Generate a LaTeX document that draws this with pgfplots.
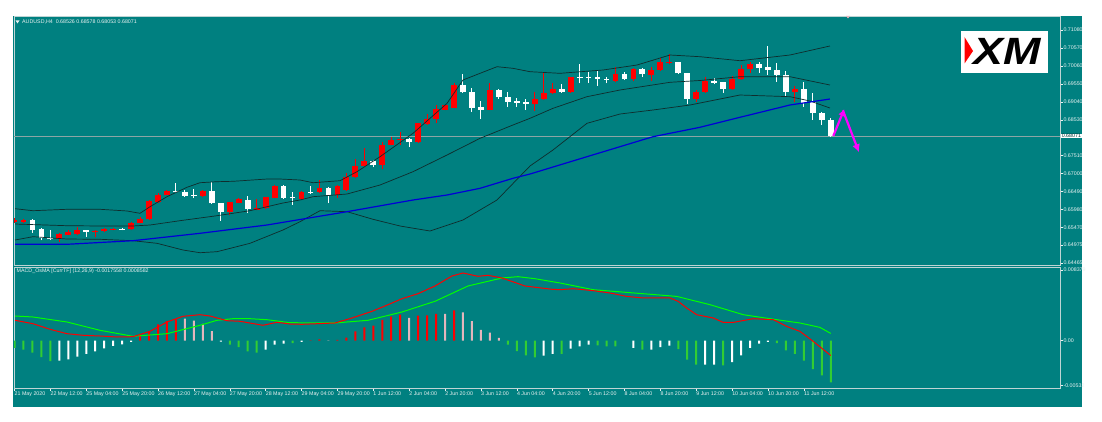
\documentclass[border=0pt]{standalone}
\usepackage{pgfplots}
\pgfplotsset{compat=1.18}
\usepackage{pgfplotstable}
\usepackage{fontspec}
\setmainfont{Liberation Sans}
\usetikzlibrary{arrows.meta}
\definecolor{bg}{RGB}{0,128,128}
\definecolor{framec}{RGB}{190,212,212}
\definecolor{band}{RGB}{15,45,45}
\definecolor{maBlue}{RGB}{0,0,215}
\definecolor{histGreen}{RGB}{50,205,50}
\definecolor{histPink}{RGB}{228,182,188}
\definecolor{macdGreen}{RGB}{0,255,0}
\definecolor{priceLine}{RGB}{140,165,165}
\definecolor{arrowPink}{RGB}{255,0,255}
\definecolor{lbl}{RGB}{235,242,242}
\newcommand{\lblfont}{\fontsize{5.3}{6}\selectfont}
\pgfplotsset{candle/.style={only marks, mark=*, mark size=0pt, mark options={draw=none, fill=none},
  error bars/y dir=plus, error bars/y explicit, error bars/error mark=none}}

\pgfplotstableread{
x o h l c
0 0.65627 0.65749 0.65599 0.65684
1 0.65619 0.65712 0.65599 0.65676
5 0.65136 0.65301 0.65068 0.65278
6 0.65267 0.65386 0.65244 0.65352
7 0.65286 0.65485 0.65258 0.65392
9 0.65343 0.65400 0.65193 0.65372
10 0.65372 0.65443 0.65357 0.65428
11 0.65420 0.65471 0.65386 0.65437
13 0.65420 0.65627 0.65400 0.65599
14 0.65599 0.65769 0.65585 0.65704
15 0.65704 0.66238 0.65684 0.66224
16 0.66204 0.66437 0.66167 0.66403
17 0.66394 0.66536 0.66380 0.66508
21 0.66366 0.66522 0.66351 0.66499
24 0.65911 0.66209 0.65826 0.66187
25 0.66175 0.66309 0.66153 0.66272
27 0.65977 0.66272 0.65954 0.66033
28 0.66025 0.66351 0.66005 0.66329
29 0.66317 0.66678 0.66295 0.66658
32 0.66280 0.66508 0.66252 0.66479
34 0.66471 0.66820 0.66451 0.66601
36 0.66394 0.66678 0.66317 0.66650
37 0.66536 0.67010 0.66508 0.66897
38 0.66897 0.67416 0.66877 0.67226
39 0.67226 0.67720 0.67203 0.67351
41 0.67246 0.67908 0.67141 0.67814
42 0.67823 0.68033 0.67800 0.67965
43 0.67948 0.68192 0.67814 0.67976
45 0.67891 0.68453 0.67871 0.68430
46 0.68419 0.68694 0.68396 0.68544
47 0.68552 0.68950 0.68447 0.68828
48 0.68817 0.68964 0.68794 0.68942
49 0.68873 0.69583 0.68851 0.69518
53 0.68817 0.69566 0.68794 0.69376
58 0.68970 0.69328 0.68788 0.69129
59 0.69120 0.69867 0.69092 0.69291
60 0.69282 0.69566 0.69262 0.69404
62 0.69319 0.69759 0.69305 0.69737
67 0.69623 0.70021 0.69603 0.69839
69 0.69688 0.69987 0.69623 0.69964
71 0.69811 0.70038 0.69640 0.69953
72 0.69953 0.70276 0.69930 0.70171
73 0.70143 0.70398 0.70114 0.70171
76 0.69129 0.69362 0.69044 0.69328
77 0.69328 0.69754 0.69305 0.69632
80 0.69404 0.69774 0.69390 0.69688
81 0.69688 0.70086 0.69674 0.69964
82 0.69972 0.70180 0.69867 0.70114
87 0.69319 0.69490 0.69044 0.69404
}\bull

\pgfplotstableread{
x o h l c
2 0.65676 0.65712 0.65323 0.65400
3 0.65420 0.65443 0.65108 0.65181
4 0.65181 0.65392 0.65116 0.65136
8 0.65392 0.65414 0.65210 0.65335
12 0.65437 0.65457 0.65392 0.65409
18 0.66508 0.66743 0.66451 0.66471
19 0.66479 0.66545 0.66351 0.66374
20 0.66403 0.66564 0.66300 0.66366
22 0.66499 0.66772 0.66138 0.66158
23 0.66158 0.66181 0.65656 0.65920
26 0.66261 0.66366 0.65874 0.65988
30 0.66658 0.66678 0.66280 0.66317
31 0.66346 0.66488 0.66110 0.66300
33 0.66471 0.66650 0.66422 0.66451
35 0.66601 0.66621 0.66158 0.66394
40 0.67368 0.67388 0.67181 0.67246
44 0.67976 0.67999 0.67749 0.67891
50 0.69518 0.69830 0.69291 0.69311
51 0.69319 0.69424 0.68760 0.68873
52 0.68893 0.69072 0.68552 0.68817
54 0.69385 0.69404 0.69129 0.69177
55 0.69169 0.69311 0.68902 0.69035
56 0.69055 0.69140 0.68902 0.69015
57 0.69035 0.69129 0.68808 0.68987
61 0.69404 0.69546 0.69291 0.69319
63 0.69754 0.70114 0.69566 0.69717
64 0.69754 0.69896 0.69583 0.69725
65 0.69737 0.69944 0.69490 0.69688
66 0.69697 0.69737 0.69566 0.69680
68 0.69830 0.69879 0.69660 0.69680
70 0.69964 0.69987 0.69737 0.69822
74 0.70163 0.70185 0.69830 0.69850
75 0.69850 0.69873 0.68978 0.69129
78 0.69640 0.69708 0.69538 0.69583
79 0.69595 0.69617 0.69299 0.69404
83 0.70106 0.70180 0.69867 0.70009
84 0.70029 0.70626 0.69802 0.69944
85 0.69944 0.70134 0.69612 0.69811
86 0.69811 0.69924 0.69206 0.69319
88 0.69404 0.69612 0.68902 0.69015
89 0.69027 0.69282 0.68524 0.68723
90 0.68723 0.68751 0.68382 0.68524
91 0.68526 0.68578 0.68053 0.68071
}\bear

\pgfplotstableread{
x y
0.06 0.66005
2.06 0.65948
5.85 0.65988
9.53 0.65988
12.54 0.65940
13.99 0.65874
15.11 0.66062
17.0 0.66346
19.23 0.66613
20.68 0.66743
22.58 0.66772
24.36 0.66783
28.15 0.66848
29.6 0.66848
31.83 0.66820
33.28 0.66743
36.29 0.66800
38.18 0.67056
40.75 0.67482
44.43 0.68146
48.22 0.68998
50.0 0.69660
51.9 0.69850
53.79 0.70038
55.57 0.69992
57.47 0.69896
60.82 0.69850
65.61 0.69944
69.4 0.70086
73.08 0.70370
76.42 0.70322
80.88 0.70208
86.45 0.70370
90.91 0.70626
}\bbupper

\pgfplotstableread{
x y
0.06 0.65570
5.85 0.65522
9.53 0.65514
13.21 0.65514
15.11 0.65542
18.78 0.65676
22.58 0.65806
26.25 0.65948
29.93 0.66167
31.83 0.66252
33.28 0.66346
37.07 0.66422
40.75 0.66678
44.43 0.67056
48.22 0.67530
51.9 0.68004
55.57 0.68382
57.47 0.68572
60.03 0.68856
63.82 0.69186
67.5 0.69376
73.08 0.69595
76.42 0.69646
80.88 0.69754
86.45 0.69754
90.91 0.69518
}\bbmiddle

\pgfplotstableread{
x y
0.06 0.65116
2.06 0.65210
5.85 0.65144
9.53 0.65136
13.21 0.65096
15.89 0.65022
18.78 0.64832
20.68 0.64755
22.58 0.64784
26.25 0.65022
29.93 0.65400
31.83 0.65636
34.06 0.65948
37.07 0.65920
39.97 0.65704
42.98 0.65514
46.32 0.65372
50.0 0.65684
53.79 0.66252
57.47 0.67218
60.03 0.67672
63.82 0.68430
67.5 0.68694
71.18 0.68808
75.3 0.68950
80.88 0.69234
86.45 0.69186
88.68 0.69064
90.91 0.68865
}\bblower

\pgfplotstableread{
x y
0.06 0.64994
5.85 0.64994
13.21 0.65096
20.68 0.65306
28.15 0.65542
31.49 0.65684
37.07 0.65920
44.43 0.66252
48.22 0.66394
51.9 0.66584
55.57 0.66868
57.47 0.66990
63.82 0.67482
71.18 0.68050
76.42 0.68317
80.88 0.68601
86.45 0.68950
90.91 0.69120
}\bbma

\pgfplotstableread{
x y
0 -0.000865
1 -0.001067
2 -0.001422
3 -0.001932
4 -0.002406
24 -0.000474
25 -0.000747
26 -0.001256
27 -0.001422
31 -0.000273
55 -0.000474
56 -0.001221
57 -0.00173
58 -0.001967
61 -0.001576
65 -0.000557
66 -0.000675
67 -0.000675
70 -0.001067
74 -0.000984
75 -0.002252
76 -0.002844
79 -0.002927
85 -0.000273
86 -0.001149
87 -0.001576
88 -0.00237
89 -0.003354
90 -0.004112
91 -0.004941
}\hgreen

\pgfplotstableread{
x y
5 -0.00237
6 -0.002204
7 -0.001896
8 -0.001576
9 -0.001256
10 -0.000901
11 -0.000628
12 -0.000427
13 -0.000154
23 -0.000095
28 -0.001067
29 -0.000474
30 -0.000356
32 -0.000154
59 -0.001778
60 -0.001576
62 -0.000948
63 -0.000675
64 -0.000474
69 -0.000865
71 -0.001067
72 -0.000747
73 -0.000593
77 -0.002844
78 -0.002844
80 -0.002524
81 -0.001742
82 -0.000865
83 -0.000356
84 -0.000154
}\hwhite

\pgfplotstableread{
x y
14 0.000557
15 0.001031
16 0.001943
17 0.002334
18 0.002536
33 0.000036
34 0.000166
36 0.000095
37 0.000356
38 0.001114
39 0.001588
40 0.001778
41 0.002453
42 0.002844
43 0.003081
45 0.002963
46 0.00301
47 0.003164
49 0.003602
}\hred

\pgfplotstableread{
x y
19 0.002607
20 0.00237
21 0.001979
22 0.001149
35 0.000036
44 0.00269
48 0.003164
50 0.003365
51 0.002334
52 0.001268
53 0.000948
54 0.00032
}\hpink

\pgfplotstableread{
x y
0.06 0.002417
2.06 0.002015
3.96 0.001351
5.85 0.00083
7.64 0.00064
9.53 0.000557
11.43 0.000438
13.21 0.000474
15.11 0.001114
17.0 0.002216
18.78 0.002891
20.68 0.003081
21.79 0.002927
23.69 0.00237
25.14 0.002299
27.7 0.001825
29.26 0.00218
30.71 0.001979
32.05 0.001943
35.73 0.002097
37.63 0.00269
39.86 0.003484
41.3 0.004112
43.2 0.004977
44.98 0.00557
46.88 0.006482
48.77 0.007667
50.0 0.008022
51.67 0.007631
52.79 0.00775
54.35 0.00743
56.91 0.006482
59.92 0.006091
60.82 0.006044
62.3 0.006162
64.53 0.005925
66.39 0.005652
68.25 0.00525
70.1 0.00506
73.08 0.00506
74.0 0.004657
74.94 0.003875
76.05 0.003081
77.9 0.00269
79.02 0.002169
80.13 0.002169
82.36 0.002607
84.59 0.002489
86.09 0.001695
87.57 0.001102
89.05 -0.000083
91 -0.0017558
}\macdmain

\pgfplotstableread{
x y
0.06 0.002927
2.06 0.002808
5.85 0.002216
9.53 0.001232
13.21 0.000521
17.0 0.00083
20.68 0.001825
22.58 0.002417
24.36 0.002607
26.25 0.002607
28.15 0.002489
30.71 0.002133
35.73 0.002097
39.41 0.002417
43.2 0.003401
46.88 0.004669
50.56 0.006482
54.35 0.00743
56.13 0.007584
58.03 0.007347
60.82 0.006837
64.53 0.006044
68.25 0.005724
73.82 0.00525
77.54 0.004266
81.25 0.003081
84.97 0.002489
87.57 0.002097
89.8 0.001576
91 0.0008582
}\macdsig

\begin{document}
\begin{tikzpicture}[x=1pt,y=1pt]
\fill[white] (0,0) rectangle (1102,421);
\fill[bg] (13,14) rectangle (1082,405);

% ---------- price panel ----------
\begin{axis}[
  at={(14pt,156pt)}, anchor=south west, scale only axis,
  width=1046pt, height=249pt,
  xmin=-0.056, xmax=116.56, ymin=0.64406, ymax=0.71478,
  axis line style={framec, line width=0.9pt},
  xtick=\empty, ytick pos=right,
  ytick={0.64465,0.64975,0.65470,0.65980,0.66490,0.67000,0.67510,0.68530,0.69040,0.69550,0.70060,0.70570,0.71080},
  yticklabels={0.64465,0.64975,0.65470,0.65980,0.66490,0.67000,0.67510,0.68530,0.69040,0.69550,0.70060,0.70570,0.71080},
  tick align=outside, major tick length=2.5pt,
  tick style={lbl, line width=0.5pt},
  yticklabel style={font=\lblfont, text=lbl, anchor=west, inner sep=0.8pt},
]
\addplot[priceLine, line width=0.7pt] coordinates {(-0.056,0.68071) (116.56,0.68071)};
% wicks
\addplot[candle, error bars/error bar style={draw=red, line width=1pt}]
  table[x=x, y=l, y error expr=\thisrow{h}-\thisrow{l}] {\bull};
\addplot[candle, error bars/error bar style={draw=white, line width=1pt}]
  table[x=x, y=l, y error expr=\thisrow{h}-\thisrow{l}] {\bear};
% bodies
\addplot[candle, error bars/error bar style={draw=red, line width=5.8pt}]
  table[x=x, y=o, y error expr=\thisrow{c}-\thisrow{o}] {\bull};
\addplot[candle, error bars/error bar style={draw=white, line width=5.8pt}]
  table[x=x, y=c, y error expr=\thisrow{o}-\thisrow{c}] {\bear};
% indicators
\addplot[band, line width=0.7pt] table {\bbupper};
\addplot[band, line width=0.7pt] table {\bbmiddle};
\addplot[band, line width=0.7pt] table {\bblower};
\addplot[maBlue, line width=1.2pt] table {\bbma};
% drawn arrow
\addplot[arrowPink, line width=2.2pt, -{Latex[length=7pt,width=7pt]}] coordinates {(91.28,0.68070) (92.51,0.68836)};
\addplot[arrowPink, line width=2.2pt, -{Latex[length=8pt,width=8pt]}] coordinates {(92.35,0.68800) (94.15,0.67607)};
\end{axis}

% ---------- MACD panel ----------
\begin{axis}[
  at={(14pt,33pt)}, anchor=south west, scale only axis,
  width=1046pt, height=121pt,
  xmin=-0.056, xmax=116.56, ymin=-0.005605, ymax=0.008733,
  axis line style={framec, line width=0.9pt},
  scaled y ticks=false,
  ytick pos=right, xtick pos=bottom,
  ytick={-0.00532,0,0.008379},
  yticklabels={-0.00532,0.00,0.008379},
  xtick={0,4,...,88},
  xticklabels={21 May 2020,22 May 12:00,25 May 04:00,25 May 20:00,26 May 12:00,27 May 04:00,27 May 20:00,28 May 12:00,29 May 04:00,29 May 20:00,1 Jun 12:00,2 Jun 04:00,2 Jun 20:00,3 Jun 12:00,4 Jun 04:00,4 Jun 20:00,5 Jun 12:00,8 Jun 04:00,8 Jun 20:00,9 Jun 12:00,10 Jun 04:00,10 Jun 20:00,11 Jun 12:00},
  tick align=outside, major tick length=2.5pt,
  tick style={lbl, line width=0.5pt},
  yticklabel style={font=\lblfont, text=lbl, anchor=west, inner sep=0.8pt},
  xticklabel style={font=\lblfont, text=lbl, anchor=north west, inner sep=0.8pt, xshift=-0.8pt},
]
\addplot[ybar, bar width=2pt, bar shift=0pt, draw=none, fill=histGreen] table {\hgreen};
\addplot[ybar, bar width=2pt, bar shift=0pt, draw=none, fill=white] table {\hwhite};
\addplot[ybar, bar width=2pt, bar shift=0pt, draw=none, fill=red] table {\hred};
\addplot[ybar, bar width=2pt, bar shift=0pt, draw=none, fill=histPink] table {\hpink};
\addplot[macdGreen, line width=1pt] table {\macdsig};
\addplot[red, line width=1pt] table {\macdmain};
\end{axis}

% ---------- texts and decorations ----------
\fill[lbl] (15.5,400.5) -- (19.5,400.5) -- (17.5,397.5) -- cycle;
\node[anchor=west, inner sep=0pt, text=lbl, font=\lblfont] at (22,399) {AUDUSD,H4\ \ 0.68526 0.68578 0.68053 0.68071};
\node[anchor=west, inner sep=0pt, text=lbl, font=\lblfont] at (16.5,150) {MACD\_OsMA [CurrTF] (12,26,9) -0.0017558 0.0008582};
\node[anchor=west, fill=white, text=bg!40!black, inner sep=0.6pt, font=\lblfont] at (1061,285) {0.68071};
\fill[histPink] (846,405) -- (850,405) -- (848,402.5) -- cycle;
% logo
\fill[white] (961,348) rectangle (1048,390);
\fill[red] (964.5,384) -- (973,370) -- (964.5,357.5) -- cycle;
\node[inner sep=0pt, font=\fontsize{38}{38}\selectfont\bfseries\itshape, xscale=1.18] at (1007,369.5) {XM};
\end{tikzpicture}
\end{document}
